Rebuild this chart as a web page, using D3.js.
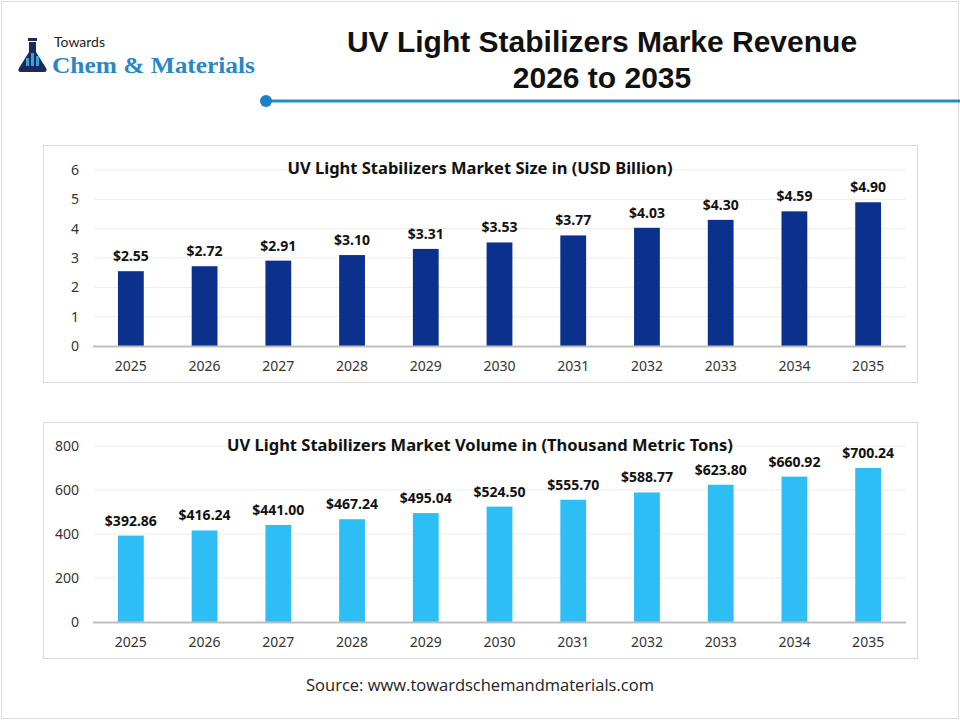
<!DOCTYPE html>
<html>
<head>
<meta charset="utf-8">
<script src="https://cdn.jsdelivr.net/npm/d3@7"></script>
<style>
  body { margin: 0; background: #fff; }
  svg { display: block; }
</style>
</head>
<body>
<div id="chart"></div>
<script>
const years = ["2025", "2026", "2027", "2028", "2029", "2030", "2031", "2032", "2033", "2034", "2035"];
const sizeValues = [2.55, 2.72, 2.91, 3.10, 3.31, 3.53, 3.77, 4.03, 4.30, 4.59, 4.90];
const volumeValues = [392.86, 416.24, 441.00, 467.24, 495.04, 524.50, 555.70, 588.77, 623.80, 660.92, 700.24];
const sizeTicks = [0, 1, 2, 3, 4, 5, 6];
const volumeTicks = [0, 200, 400, 600, 800];

const W = 960, H = 720;
const svg = d3.select("#chart").append("svg")
  .attr("width", W)
  .attr("height", H);

// page frame
svg.append("rect")
  .attr("x", 1.5).attr("y", 1.5)
  .attr("width", W - 3).attr("height", H - 3)
  .attr("fill", "#fff")
  .attr("stroke", "#dcdcdc");

// logo
const logo = svg.append("g");
logo.append("rect").attr("x", 28).attr("y", 38).attr("width", 9).attr("height", 3).attr("fill", "#1b2a5a");
logo.append("rect").attr("x", 29).attr("y", 42).attr("width", 7).attr("height", 5).attr("fill", "#1b2a5a");
logo.append("path")
  .attr("d", "M29,47 L36,47 L36,52 L46,68 Q48,72 44,72 L21,72 Q17,72 19,68 L29,52 Z")
  .attr("fill", "#1b2a5a");
logo.append("rect").attr("x", 26).attr("y", 58).attr("width", 3).attr("height", 8).attr("fill", "#3aa0d8");
logo.append("rect").attr("x", 31).attr("y", 53).attr("width", 3).attr("height", 13).attr("fill", "#3aa0d8");
logo.append("rect").attr("x", 36).attr("y", 56).attr("width", 3).attr("height", 10).attr("fill", "#3aa0d8");
logo.append("text")
  .attr("x", 54).attr("y", 47)
  .style("font-family", "Lato, 'Open Sans', sans-serif")
  .style("font-size", "14px")
  .attr("fill", "#222")
  .text("Towards");
logo.append("text")
  .attr("x", 52).attr("y", 73)
  .attr("textLength", 203)
  .attr("lengthAdjust", "spacingAndGlyphs")
  .style("font-family", "'Liberation Serif', 'DejaVu Serif', serif")
  .style("font-weight", "bold")
  .style("font-size", "23px")
  .attr("fill", "#2a87c4")
  .text("Chem & Materials");

// main title
const title = svg.append("text")
  .attr("text-anchor", "middle")
  .style("font-family", "'Liberation Sans Narrow', 'Liberation Sans', sans-serif")
  .style("font-weight", "bold")
  .style("font-size", "30px")
  .attr("fill", "#111");
title.append("tspan").attr("x", 602).attr("y", 52).text("UV Light Stabilizers Marke Revenue");
title.append("tspan").attr("x", 602).attr("y", 88).text("2026 to 2035");

// divider
svg.append("line")
  .attr("x1", 265).attr("x2", W)
  .attr("y1", 101).attr("y2", 101)
  .attr("stroke", "#2a8bbf")
  .attr("stroke-width", 3);
svg.append("circle")
  .attr("cx", 266).attr("cy", 101).attr("r", 6)
  .attr("fill", "#1a80c8");

function drawPanel(opts) {
  const { top, bottom, values, ticks, color, chartTitle, yTop, yZero } = opts;

  svg.append("rect")
    .attr("x", 43.5).attr("y", top + 0.5)
    .attr("width", 874).attr("height", bottom - top)
    .attr("fill", "#fff")
    .attr("stroke", "#d9d9d9");

  const x = d3.scaleBand()
    .domain(years)
    .range([94, 905])
    .paddingInner(0.65)
    .paddingOuter(0.325);

  const y = d3.scaleLinear()
    .domain([0, d3.max(ticks)])
    .range([yZero, yTop]);

  const g = svg.append("g");

  // gridlines
  g.append("g")
    .selectAll("line")
    .data(ticks.slice(1))
    .join("line")
    .attr("x1", 95).attr("x2", 905)
    .attr("y1", d => y(d)).attr("y2", d => y(d))
    .attr("stroke", "#ececec");

  // y axis
  const yAxis = g.append("g")
    .attr("transform", "translate(79,0)")
    .call(d3.axisLeft(y).tickValues(ticks).tickFormat(d3.format("d")).tickSize(0).tickPadding(0));
  yAxis.select(".domain").remove();
  yAxis.selectAll("text")
    .style("font-family", "'Noto Sans', 'Open Sans', sans-serif")
    .style("font-size", "14px")
    .attr("fill", "#333");

  // bars
  g.append("g")
    .selectAll("rect")
    .data(values)
    .join("rect")
    .attr("x", (d, i) => x(years[i]))
    .attr("width", x.bandwidth())
    .attr("y", d => y(d))
    .attr("height", d => y(0) - y(d))
    .attr("fill", color);

  // baseline
  g.append("line")
    .attr("x1", 93).attr("x2", 906)
    .attr("y1", y(0) + 0.5).attr("y2", y(0) + 0.5)
    .attr("stroke", "#bfbfbf")
    .attr("stroke-width", 2);

  // x axis
  const xAxis = g.append("g")
    .attr("transform", `translate(0,${y(0)})`)
    .call(d3.axisBottom(x).tickSize(0).tickPadding(15));
  xAxis.select(".domain").remove();
  xAxis.selectAll("text")
    .style("font-family", "'Noto Sans', 'Open Sans', sans-serif")
    .style("font-size", "14px")
    .attr("fill", "#333");

  // data labels
  g.append("g")
    .selectAll("text")
    .data(values)
    .join("text")
    .attr("x", (d, i) => x(years[i]) + x.bandwidth() / 2)
    .attr("y", d => y(d) - 10)
    .attr("text-anchor", "middle")
    .style("font-family", "'Noto Sans', 'Open Sans', sans-serif")
    .style("font-weight", "bold")
    .style("font-size", "14px")
    .attr("fill", "#111")
    .text(d => "$" + d.toFixed(2));

  // panel title
  svg.append("text")
    .attr("x", 480).attr("y", top + 29)
    .attr("text-anchor", "middle")
    .style("font-family", "'Noto Sans', 'Open Sans', sans-serif")
    .style("font-weight", "bold")
    .style("font-size", "16.5px")
    .attr("fill", "#111")
    .text(chartTitle);
}

drawPanel({
  top: 145, bottom: 382,
  values: sizeValues, ticks: sizeTicks,
  color: "#0b318c",
  chartTitle: "UV Light Stabilizers Market Size in (USD Billion)",
  yTop: 170, yZero: 346
});

drawPanel({
  top: 422, bottom: 658,
  values: volumeValues, ticks: volumeTicks,
  color: "#2ebef6",
  chartTitle: "UV Light Stabilizers Market Volume in (Thousand Metric Tons)",
  yTop: 446, yZero: 622
});

// source
svg.append("text")
  .attr("x", 480).attr("y", 691)
  .attr("text-anchor", "middle")
  .style("font-family", "'Liberation Sans Narrow', 'Open Sans', sans-serif")
  .style("font-size", "16.5px")
  .attr("fill", "#222")
  .text("Source: www.towardschemandmaterials.com");
</script>
</body>
</html>
